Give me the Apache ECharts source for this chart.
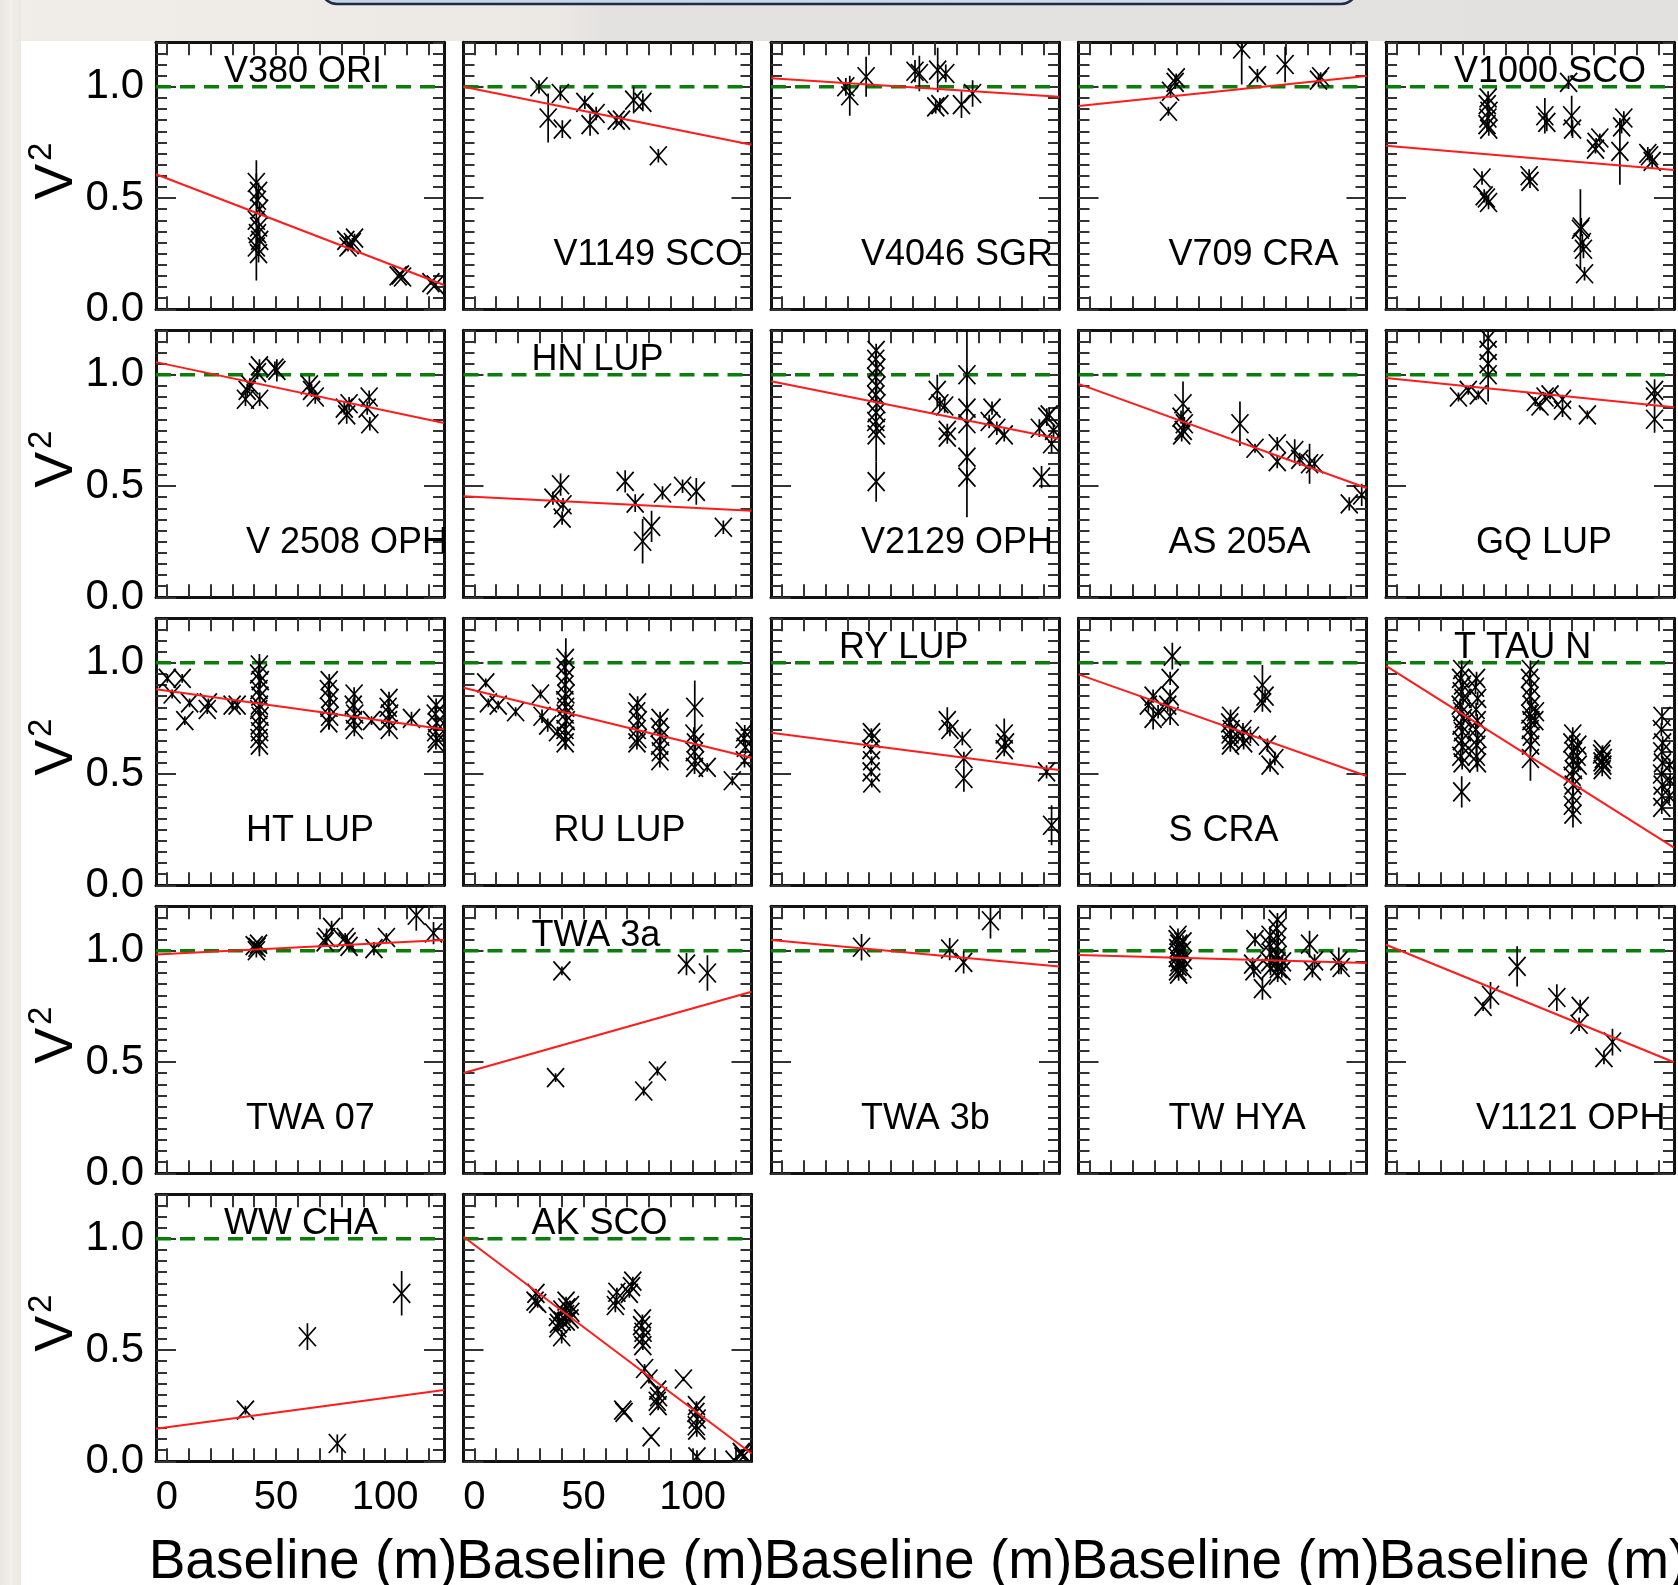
<!DOCTYPE html>
<html>
<head>
<meta charset="utf-8">
<script src="https://cdn.jsdelivr.net/npm/echarts@6/dist/echarts.min.js"></script>
<style>
  html, body { margin: 0; padding: 0; background: #ffffff; }
  #chart { width: 1678px; height: 1585px; }
</style>
</head>
<body>
<div id="chart"></div>
<script>
// ---- Visibility-squared measurements: [baseline (m), V^2, error] ----
const v380Ori = [[41,0.57,0.04],[42,0.53,0.04],[41.5,0.49,0.04],[42.5,0.45,0.03],[41,0.40,0.27],[42,0.37,0.04],[41.5,0.34,0.04],[42.5,0.31,0.04],[41,0.28,0.04],[42,0.25,0.04],[82,0.31,0.02],[84,0.29,0.02],[86,0.32,0.02],[83,0.28,0.02],[85,0.30,0.02],[106,0.15,0.01],[107,0.155,0.01],[108,0.145,0.01],[121,0.12,0.01],[123,0.11,0.01]];
const v1149Sco = [[29.6,1.00,0.03],[33.8,0.86,0.11],[39.4,0.97,0.03],[40.3,0.81,0.04],[50.6,0.93,0.03],[53,0.83,0.05],[55.8,0.88,0.03],[65,0.85,0.02],[67.4,0.85,0.02],[73,0.94,0.06],[77.2,0.93,0.04],[84.3,0.69,0.03]];
const v4046Sgr = [[29.3,1.0,0.04],[31.1,0.96,0.09],[38.6,1.045,0.09],[61,1.07,0.05],[63,1.06,0.08],[71.4,1.075,0.1],[75.1,1.06,0.04],[70.5,0.91,0.03],[72.4,0.92,0.03],[82.3,0.92,0.06],[87.4,0.97,0.06]];
const v709Cra = [[36.2,0.89,0.02],[37.2,0.98,0.03],[39.3,1.02,0.03],[39.8,1.04,0.02],[69.8,1.17,0.16],[77,1.05,0.03],[89.7,1.10,0.08],[105,1.03,0.03],[106,1.045,0.02]];
const v1000Sco = [[41.8,0.95,0.03],[41.4,0.92,0.03],[42.2,0.89,0.03],[41.7,0.86,0.03],[41.3,0.83,0.03],[42.1,0.81,0.03],[39,0.59,0.03],[40,0.51,0.03],[42,0.48,0.03],[41,0.50,0.03],[60.6,0.60,0.03],[61,0.575,0.03],[67.8,0.87,0.08],[68.7,0.84,0.04],[78.7,1.02,0.03],[80.1,0.87,0.09],[80.5,0.81,0.04],[84.1,0.36,0.18],[85,0.30,0.04],[84.5,0.37,0.04],[85.5,0.27,0.04],[86,0.16,0.03],[91.3,0.75,0.02],[93,0.77,0.02],[91,0.72,0.02],[102.2,0.71,0.15],[104,0.86,0.03],[103,0.82,0.03],[115.8,0.69,0.03],[117,0.665,0.03],[115,0.70,0.03]];
const v2508Oph = [[36.8,0.93,0.03],[36,0.89,0.03],[38,0.955,0.03],[42.5,0.89,0.03],[42.4,1.04,0.03],[41.5,1.01,0.03],[50.4,1.02,0.05],[49.5,1.03,0.03],[65.3,0.955,0.04],[66.3,0.93,0.03],[68,0.90,0.03],[81.3,0.85,0.03],[82.4,0.82,0.04],[83.5,0.87,0.03],[92.7,0.90,0.03],[93,0.78,0.03],[91.8,0.85,0.03]];
const hnLup = [[36,0.446,0.03],[39.5,0.506,0.05],[40.6,0.416,0.03],[40.2,0.356,0.03],[69.1,0.521,0.05],[73.7,0.423,0.04],[77.1,0.252,0.1],[81.2,0.319,0.07],[86.2,0.469,0.03],[95.4,0.499,0.03],[101.7,0.476,0.06],[114.1,0.315,0.03]];
const v2129Oph = [[43.2,1.11,0.03],[43,1.07,0.03],[43.5,1.03,0.03],[43,0.99,0.03],[43.4,0.95,0.03],[43,0.91,0.03],[43.5,0.87,0.03],[43.2,0.83,0.03],[43,0.79,0.03],[43.5,0.76,0.03],[43.2,0.73,0.12],[43.2,0.52,0.09],[71.2,0.93,0.07],[72.4,0.87,0.03],[74.6,0.86,0.03],[75.8,0.75,0.03],[75.8,0.72,0.03],[84.8,1.0,0.03],[84.8,0.85,0.03],[84.8,0.78,0.42],[84.8,0.63,0.03],[84.8,0.54,0.03],[96.3,0.85,0.03],[95,0.79,0.03],[98.5,0.76,0.03],[101.9,0.73,0.03],[118,0.76,0.04],[119,0.54,0.05],[121.4,0.81,0.04],[123.6,0.69,0.04],[122.5,0.82,0.03],[124.5,0.75,0.03]];
const as205a = [[42.9,0.87,0.1],[42,0.81,0.03],[43,0.75,0.03],[42.3,0.73,0.03],[43.5,0.78,0.03],[69,0.78,0.1],[75.9,0.67,0.02],[86.1,0.69,0.03],[86.1,0.61,0.03],[94.1,0.66,0.05],[96.4,0.62,0.03],[100.9,0.60,0.09],[103.2,0.60,0.03],[119.1,0.42,0.03],[124.8,0.46,0.05]];
const gqLup = [[28.2,0.90,0.02],[32.7,0.93,0.02],[37.3,0.91,0.02],[41.8,1.165,0.03],[41.8,1.11,0.03],[41.8,1.05,0.03],[41.8,1.0,0.12],[63.4,0.88,0.02],[65.6,0.86,0.02],[67.9,0.90,0.02],[70.2,0.91,0.02],[75.9,0.84,0.03],[75.9,0.89,0.02],[87.3,0.82,0.02],[118.1,0.93,0.05],[118.1,0.90,0.03],[118.1,0.80,0.06]];
const htLup = [[0.2,0.93,0.02],[7,0.93,0.02],[2.4,0.86,0.02],[8.2,0.74,0.02],[10.4,0.82,0.02],[18.5,0.79,0.02],[19,0.82,0.02],[29.9,0.81,0.02],[32.2,0.81,0.02],[42.4,0.99,0.03],[42.0,0.95,0.03],[42.8,0.92,0.03],[42.2,0.88,0.03],[42.6,0.85,0.03],[42.4,0.81,0.23],[42.1,0.79,0.03],[42.7,0.76,0.03],[42.3,0.72,0.03],[42.5,0.69,0.03],[42.2,0.66,0.03],[42.4,0.63,0.03],[74.4,0.92,0.03],[74.0,0.88,0.03],[74.8,0.84,0.03],[74.3,0.80,0.1],[74.6,0.76,0.03],[74.2,0.73,0.03],[85.8,0.86,0.03],[85.4,0.81,0.03],[86.1,0.77,0.08],[85.6,0.74,0.03],[85.9,0.70,0.03],[93.8,0.74,0.02],[101.8,0.84,0.03],[101.4,0.80,0.03],[102.1,0.77,0.03],[101.6,0.74,0.03],[101.9,0.70,0.03],[112.1,0.75,0.03],[123.4,0.81,0.03],[123.0,0.77,0.03],[123.7,0.73,0.03],[123.2,0.69,0.03],[123.6,0.66,0.03],[123.3,0.64,0.03]];
const ruLup = [[5.2,0.91,0.02],[6.4,0.82,0.02],[10.9,0.81,0.02],[18.9,0.78,0.02],[30.3,0.86,0.02],[31,0.76,0.03],[33.6,0.72,0.03],[38.1,0.69,0.02],[41.7,1.02,0.03],[41.3,0.98,0.03],[42.0,0.94,0.03],[41.5,0.90,0.03],[41.9,0.86,0.25],[41.4,0.83,0.03],[41.8,0.80,0.03],[41.6,0.77,0.03],[42.1,0.74,0.03],[41.5,0.70,0.03],[41.8,0.67,0.03],[41.6,0.64,0.03],[74.8,0.82,0.03],[74.4,0.78,0.03],[75.1,0.74,0.03],[74.6,0.70,0.03],[74.9,0.66,0.03],[74.5,0.64,0.03],[85.1,0.75,0.03],[84.7,0.71,0.03],[85.4,0.67,0.03],[84.9,0.63,0.03],[85.2,0.60,0.04],[85.0,0.56,0.03],[101,0.80,0.12],[100.6,0.68,0.03],[101.3,0.64,0.03],[100.8,0.60,0.03],[101.2,0.56,0.03],[100.9,0.53,0.03],[106.7,0.53,0.02],[118.2,0.47,0.02],[123.9,0.69,0.03],[123.5,0.66,0.03],[124.2,0.62,0.03],[123.8,0.56,0.03]];
const ryLup = [[41,0.686,0.02],[41.3,0.66,0.02],[40.8,0.61,0.02],[41.1,0.56,0.02],[40.9,0.51,0.02],[41.2,0.46,0.02],[75.8,0.74,0.06],[77,0.70,0.03],[82.7,0.66,0.03],[83.4,0.57,0.03],[83.4,0.48,0.06],[101.9,0.68,0.07],[102.5,0.64,0.03],[101.9,0.61,0.03],[121.3,0.51,0.03],[123.6,0.27,0.09]];
const sCra = [[29.2,0.85,0.03],[27,0.81,0.03],[29.2,0.75,0.05],[31.5,0.78,0.03],[35.9,0.81,0.03],[37,0.76,0.04],[37,0.85,0.03],[37,0.93,0.03],[38,1.03,0.06],[64.7,0.76,0.03],[64.3,0.73,0.03],[65.0,0.70,0.03],[64.5,0.68,0.03],[64.9,0.655,0.03],[64.6,0.63,0.03],[70.4,0.70,0.03],[70.1,0.67,0.03],[70.7,0.64,0.03],[73.8,0.67,0.03],[79.3,0.90,0.09],[79.3,0.82,0.04],[80.5,0.85,0.03],[81.6,0.63,0.03],[85,0.57,0.03],[82.8,0.54,0.03]];
const tTauN = [[29.7,0.97,0.04],[29.2,0.93,0.03],[30.1,0.90,0.03],[29.5,0.87,0.03],[30.3,0.84,0.03],[29.0,0.81,0.03],[29.8,0.78,0.03],[30.5,0.75,0.03],[29.4,0.72,0.03],[30.0,0.69,0.03],[29.6,0.65,0.04],[30.2,0.62,0.03],[29.3,0.58,0.03],[29.9,0.55,0.03],[29.7,0.42,0.07],[36.5,0.93,0.03],[36.0,0.89,0.03],[37.0,0.84,0.03],[36.3,0.79,0.03],[36.8,0.74,0.03],[36.2,0.70,0.03],[37.1,0.66,0.03],[36.6,0.63,0.04],[36.4,0.58,0.05],[36.9,0.55,0.04],[61.2,0.97,0.04],[60.8,0.93,0.03],[61.5,0.89,0.03],[61.0,0.85,0.03],[61.7,0.81,0.03],[60.9,0.77,0.03],[61.4,0.74,0.03],[61.1,0.70,0.03],[61.6,0.67,0.03],[61.3,0.63,0.03],[61.2,0.57,0.1],[63.5,0.78,0.03],[63.2,0.74,0.03],[80.6,0.68,0.03],[80.2,0.64,0.03],[81.0,0.60,0.03],[80.5,0.56,0.03],[80.9,0.52,0.03],[80.3,0.49,0.03],[80.8,0.45,0.05],[80.6,0.40,0.04],[80.4,0.36,0.04],[80.7,0.32,0.06],[82.9,0.63,0.03],[82.6,0.58,0.03],[83.1,0.54,0.03],[94.2,0.61,0.02],[93.8,0.59,0.02],[94.6,0.57,0.02],[94.0,0.555,0.02],[94.4,0.54,0.02],[94.1,0.52,0.03],[121.5,0.76,0.04],[121.2,0.70,0.03],[121.8,0.64,0.03],[121.4,0.60,0.03],[121.7,0.55,0.03],[121.3,0.50,0.03],[121.6,0.45,0.03],[121.5,0.40,0.03],[121.4,0.35,0.03],[125,0.54,0.03],[125.2,0.47,0.03],[124.8,0.40,0.03]];
const twa07 = [[41.3,1.016,0.02],[40,1.023,0.02],[42,1.03,0.02],[41,1.0,0.03],[73.2,1.06,0.04],[75.5,1.105,0.03],[72.5,1.04,0.02],[82.6,1.04,0.03],[83.5,1.02,0.02],[81.7,1.06,0.02],[94.9,1.01,0.03],[100.6,1.06,0.02],[114.3,1.16,0.07],[122.2,1.08,0.05]];
const twa3a = [[40.1,0.91,0.02],[37.2,0.43,0.02],[77.6,0.37,0.02],[83.9,0.46,0.02],[97.2,0.94,0.05],[106.8,0.90,0.08]];
const twa3b = [[36.5,1.016,0.06],[76.9,1.008,0.05],[83.3,0.948,0.05],[95.6,1.135,0.08]];
const twHya = [[40.6,1.07,0.03],[40.2,1.05,0.03],[41.0,1.03,0.03],[40.5,1.01,0.03],[40.8,0.99,0.03],[40.3,0.97,0.03],[41.1,0.95,0.03],[40.6,0.93,0.03],[40.4,0.91,0.03],[40.9,0.895,0.03],[42.9,1.04,0.03],[42.6,1.0,0.03],[43.1,0.96,0.03],[42.8,0.92,0.03],[75.9,1.05,0.03],[74.8,0.94,0.03],[75.4,0.91,0.03],[79.3,0.83,0.05],[82.8,1.07,0.04],[82.4,1.03,0.03],[83.1,0.99,0.03],[82.7,0.95,0.03],[83.0,0.92,0.03],[86.2,1.14,0.03],[85.9,1.10,0.04],[86.5,1.06,0.03],[86.1,1.02,0.03],[86.4,0.98,0.04],[86.0,0.95,0.03],[86.6,0.92,0.03],[86.3,0.89,0.03],[88.5,0.95,0.03],[88.2,0.91,0.03],[100.9,1.03,0.06],[103.2,0.955,0.03],[102.2,0.91,0.03],[114.3,0.955,0.06],[115.4,0.925,0.03]];
const v1121Oph = [[39.5,0.75,0.02],[42.9,0.80,0.06],[55.1,0.93,0.09],[73.3,0.79,0.06],[84,0.75,0.03],[83.5,0.67,0.03],[94.9,0.52,0.03],[98.8,0.59,0.06]];
const wwCha = [[36,0.23,0.02],[64.4,0.56,0.06],[78.1,0.08,0.04],[107.6,0.755,0.1]];
const akSco = [[28.2,0.755,0.02],[29,0.71,0.02],[27.8,0.72,0.02],[38,0.65,0.02],[38.5,0.62,0.02],[38.2,0.60,0.02],[40,0.56,0.03],[40.3,0.63,0.02],[40.1,0.68,0.02],[42,0.72,0.02],[42.3,0.69,0.02],[41.8,0.66,0.02],[42.1,0.63,0.02],[44,0.70,0.02],[44.2,0.67,0.02],[43.8,0.64,0.02],[65,0.725,0.02],[64.6,0.70,0.03],[65.3,0.76,0.02],[72,0.785,0.02],[72.6,0.81,0.02],[71,0.755,0.02],[77,0.64,0.02],[76.6,0.61,0.02],[77.3,0.58,0.02],[76.9,0.55,0.02],[77.2,0.52,0.02],[68,0.23,0.01],[68.6,0.22,0.01],[78,0.417,0.02],[80,0.37,0.02],[81,0.11,0.01],[84,0.32,0.02],[84.4,0.29,0.02],[83.8,0.27,0.02],[84.2,0.25,0.02],[95.8,0.37,0.01],[101.8,0.25,0.02],[101.5,0.22,0.02],[102.1,0.19,0.02],[101.7,0.16,0.02],[101.9,0.14,0.03],[102,0.02,0.03],[119,0.005,0.01],[122.7,0.035,0.01],[123.1,0.02,0.01],[122.3,0.04,0.01]];

// Panel order (row by row) and names
const starNames = ['V380 ORI','V1149 SCO','V4046 SGR','V709 CRA','V1000 SCO',
  'V 2508 OPH','HN LUP','V2129 OPH','AS 205A','GQ LUP',
  'HT LUP','RU LUP','RY LUP','S CRA','T TAU N',
  'TWA 07','TWA 3a','TWA 3b','TW HYA','V1121 OPH',
  'WW CHA','AK SCO'];
const starData = [v380Ori, v1149Sco, v4046Sgr, v709Cra, v1000Sco,
  v2508Oph, hnLup, v2129Oph, as205a, gqLup,
  htLup, ruLup, ryLup, sCra, tTauN,
  twa07, twa3a, twa3b, twHya, v1121Oph,
  wwCha, akSco];
// Linear fit: V^2 at the left and right ends of the baseline axis
const fitAtEnds = [[0.607,0.109],[1.0,0.74],[1.038,0.955],[0.914,1.049],[0.735,0.626],
  [1.057,0.783],[0.454,0.389],[0.971,0.713],[0.959,0.491],[0.986,0.854],
  [0.881,0.701],[0.888,0.573],[0.686,0.518],[0.948,0.491],[0.986,0.169],
  [0.983,1.049],[0.451,0.816],[1.049,0.929],[0.981,0.945],[1.027,0.499],
  [0.146,0.32],[1.009,0.035]];
// Name drawn at the top (true) or the bottom (false) of its panel
const nameAtTop = [true,false,false,false,true,
  false,true,false,false,false,
  false,false,true,false,true,
  false,true,false,false,false,
  true,true];
const unresolvedV2 = 1.0;
const xTickLabels = [0, 50, 100];
const yTickLabels = [0, 0.5, 1.0];
const xAxisTitle = 'Baseline (m)';

// ---- Axis ranges and layout ----
const X_MIN = -5, X_MAX = 127, Y_MIN = 0, Y_MAX = 1.2;
const xTicks = []; for (let v = 0; v <= 120; v += 10) xTicks.push(v);
const yTicks = []; for (let k = 0; k <= 24; k++) yTicks.push(Math.round(k * 5) / 100);

const FONT = '"Liberation Sans", Arial, Helvetica, sans-serif';
const NCOL = 5, NROW = 5;
const LEFT0 = 156, STEP_X = 307.5, TOP0 = 42.3, STEP_Y = 288, W = 288, H = 267;
const AXIS_COLOR = '#111', TICK_COLOR = '#333';

function renderCross(params, api) {
  const x = api.value(0), y = api.value(1), e = api.value(2);
  const c = api.coord([x, y]);
  const hi = api.coord([x, y + e]);
  const lo = api.coord([x, y - e]);
  const hw = 8.5, hh = 9.5;
  const style = { stroke: '#000', lineWidth: 1.7, fill: null };
  return {
    type: 'group',
    children: [
      { type: 'line', shape: { x1: c[0] - hw, y1: c[1] - hh, x2: c[0] + hw, y2: c[1] + hh }, style },
      { type: 'line', shape: { x1: c[0] - hw, y1: c[1] + hh, x2: c[0] + hw, y2: c[1] - hh }, style },
      { type: 'line', shape: { x1: c[0], y1: hi[1], x2: c[0], y2: lo[1] }, style }
    ]
  };
}

const grid = [], xAxis = [], yAxis = [], series = [], graphic = [];

// page background pieces outside the white plotting sheet
graphic.push({ type: 'rect', silent: true, z: -5, shape: { x: 0, y: 0, width: 1678, height: 41 },
  style: { fill: new echarts.graphic.LinearGradient(0, 0, 1, 0, [
    { offset: 0, color: '#f1ede8' }, { offset: 0.33, color: '#ece9e5' }, { offset: 0.36, color: '#e4e2e0' }, { offset: 1, color: '#e2e1df' }]) } });
graphic.push({ type: 'rect', silent: true, z: -5, shape: { x: 0, y: 0, width: 21, height: 1585 },
  style: { fill: new echarts.graphic.LinearGradient(0, 0, 1, 0, [
    { offset: 0, color: '#e9e5e0' }, { offset: 0.5, color: '#f2eee9' }, { offset: 1, color: '#ebe7e2' }]) } });
graphic.push({ type: 'rect', silent: true, z: -4, shape: { x: 321, y: -30, width: 1036, height: 34, r: 16 },
  style: { fill: new echarts.graphic.LinearGradient(0, 0, 1, 0, [
    { offset: 0, color: '#c4d2e4' }, { offset: 1, color: '#d3deeb' }]), stroke: '#1e2b47', lineWidth: 2.5 } });

starNames.forEach((name, i) => {
  const row = Math.floor(i / NCOL), col = i % NCOL;
  const left = LEFT0 + STEP_X * col, top = TOP0 + STEP_Y * row;
  grid.push({ left: left, top: top, width: W, height: H, show: false });

  const xBase = {
    gridIndex: i, type: 'value', min: X_MIN, max: X_MAX,
    axisLine: { show: true, onZero: false, lineStyle: { color: AXIS_COLOR, width: 3 } },
    axisTick: { show: true, inside: true, length: 13, customValues: xTicks, lineStyle: { color: TICK_COLOR, width: 2 } },
    splitLine: { show: false }
  };
  xAxis.push(Object.assign({}, xBase, { position: 'bottom',
    axisLabel: { show: row === NROW - 1, customValues: xTickLabels, margin: 17, fontSize: 40, color: '#000', fontFamily: FONT } }));
  xAxis.push(Object.assign({}, xBase, { position: 'top', axisLabel: { show: false } }));

  const yMinor = {
    gridIndex: i, type: 'value', min: Y_MIN, max: Y_MAX,
    axisLine: { show: true, onZero: false, lineStyle: { color: AXIS_COLOR, width: 3 } },
    axisTick: { show: true, inside: true, length: 11, customValues: yTicks, lineStyle: { color: TICK_COLOR, width: 2 } },
    splitLine: { show: false }
  };
  const yMajor = {
    gridIndex: i, type: 'value', min: Y_MIN, max: Y_MAX,
    axisLine: { show: false, onZero: false },
    axisTick: { show: true, inside: true, length: 20, customValues: yTickLabels, lineStyle: { color: TICK_COLOR, width: 2 } },
    axisLabel: { show: false }, splitLine: { show: false }
  };
  yAxis.push(Object.assign({}, yMinor, { position: 'left',
    axisLabel: { show: col === 0, customValues: yTickLabels, margin: 12, fontSize: 42, color: '#000', fontFamily: FONT,
      formatter: v => v.toFixed(1) } }));
  yAxis.push(Object.assign({}, yMajor, { position: 'left' }));
  yAxis.push(Object.assign({}, yMinor, { position: 'right', axisLabel: { show: false } }));
  yAxis.push(Object.assign({}, yMajor, { position: 'right' }));

  const xi = 2 * i, yi = 4 * i;
  series.push({
    type: 'line', xAxisIndex: xi, yAxisIndex: yi, silent: true, showSymbol: false, symbol: 'none', z: 3,
    data: [[X_MIN, unresolvedV2], [X_MAX, unresolvedV2]],
    lineStyle: { color: '#0b7d0b', width: 3.5, type: [15, 9] }
  });
  series.push({
    type: 'custom', xAxisIndex: xi, yAxisIndex: yi, silent: true, clip: true, z: 4,
    encode: { x: 0, y: 1 }, renderItem: renderCross, data: starData[i]
  });
  series.push({
    type: 'line', xAxisIndex: xi, yAxisIndex: yi, silent: true, showSymbol: false, symbol: 'none', z: 5,
    data: [[X_MIN, fitAtEnds[i][0]], [X_MAX, fitAtEnds[i][1]]],
    lineStyle: { color: '#ff1c1c', width: 2 }
  });

  // star name inside the panel
  graphic.push({
    type: 'text', silent: true, z: 50,
    x: left + (nameAtTop[i] ? 68 : 90),
    y: nameAtTop[i] ? top + 30 : top + H - 54,
    style: { text: name, fill: '#000', font: '36px ' + FONT, align: 'left', verticalAlign: 'middle' }
  });
});

// V^2 axis titles, one per row
for (let r = 0; r < NROW; r++) {
  const yc = TOP0 + STEP_Y * r + H / 2;
  graphic.push({ type: 'text', silent: true, z: 50, x: 57, y: yc + 6, rotation: Math.PI / 2,
    style: { text: 'V', fill: '#000', font: '54px ' + FONT, align: 'center', verticalAlign: 'middle' } });
  graphic.push({ type: 'text', silent: true, z: 50, x: 42, y: yc - 24, rotation: Math.PI / 2,
    style: { text: '2', fill: '#000', font: '33px ' + FONT, align: 'center', verticalAlign: 'middle' } });
}
// Baseline axis titles, one per column
for (let c = 0; c < NCOL; c++) {
  graphic.push({ type: 'text', silent: true, z: 50, x: LEFT0 + STEP_X * c + W / 2 + 3, y: 1563,
    style: { text: xAxisTitle, fill: '#000', font: '55px ' + FONT, align: 'center', verticalAlign: 'middle' } });
}

const chart = echarts.init(document.getElementById('chart'), null, { renderer: 'canvas' });
chart.setOption({
  backgroundColor: '#ffffff',
  animation: false,
  grid: grid,
  xAxis: xAxis,
  yAxis: yAxis,
  series: series,
  graphic: graphic
});
</script>
</body>
</html>
